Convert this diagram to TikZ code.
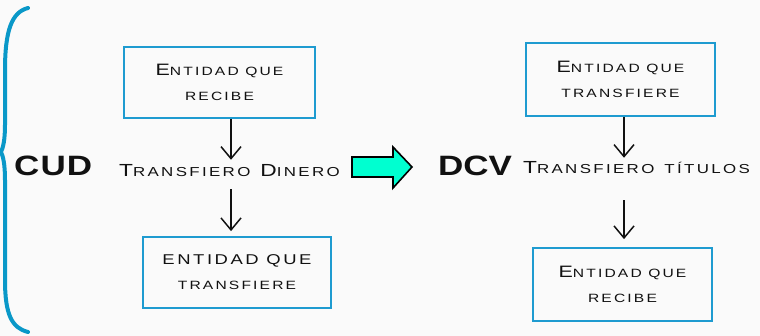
\documentclass[tikz,border=0pt]{standalone}
\usepackage{fontspec}
\setmainfont{Liberation Sans}[LetterSpace=18,FakeStretch=1.3]
\newfontfamily\headfont{Liberation Sans Bold}[LetterSpace=4,FakeStretch=1.25]
\usetikzlibrary{arrows.meta}
\definecolor{boxblue}{RGB}{30,155,208}
\definecolor{braceblue}{RGB}{10,152,200}
\definecolor{bg}{RGB}{250,250,250}
\definecolor{aqua}{RGB}{0,255,208}
\definecolor{ink}{RGB}{17,17,17}
\newcommand{\BC}[1]{{\fontsize{17.5}{25}\selectfont #1}}
\newcommand{\SC}[1]{{\fontsize{13}{25}\selectfont #1}}
\newcommand{\BB}[1]{{\fontsize{16.5}{25}\selectfont #1}}
\newcommand{\SB}[1]{{\fontsize{12}{25}\selectfont #1}}
\begin{document}
\begin{tikzpicture}[x=1pt,y=-1pt,
  box/.style={draw=boxblue,line width=1.8pt,align=center,inner sep=0pt,text=ink,
    font=\fontsize{12}{25}\selectfont},
  lbl/.style={anchor=base west,inner sep=0pt,text=ink,font=\fontsize{13}{25}\selectfont},
  big/.style={anchor=base west,inner sep=0pt,text=ink,font=\headfont\fontsize{28}{30}\selectfont},
  arr/.style={-{Straight Barb[length=12pt,width=20pt,line width=1.5pt]},line width=1.5pt,draw=ink},
  brace/.style={draw=braceblue,line width=4pt,line cap=round},
  bigarrow/.style={draw=black,line width=1.6pt,fill=aqua,line join=miter}]
\fill[bg] (0,0) rectangle (760,336);
\useasboundingbox (0,0) rectangle (760,336);
% brace
\draw[brace] (28,8) .. controls (12,12) and (5,30) .. (5,70) -- (5,125)
  .. controls (5,140) and (3,148) .. (1,152) .. controls (3,156) and (5,164) .. (5,180)
  -- (5,280) .. controls (5,315) and (12,328) .. (28,332);
% boxes
\node[box,minimum width=191pt,minimum height=71pt] (b1) at (219.5,82.5)
  {\BB{E}\SB{NTIDAD QUE}\\\SB{RECIBE}};
\node[box,minimum width=188pt,minimum height=71pt] (b2) at (237,272.5)
  {{\fontsize{14.2}{25}\selectfont ENTIDAD QUE}\\\SB{TRANSFIERE}};
\node[box,minimum width=189pt,minimum height=73pt] (b3) at (620.5,79.5)
  {\BB{E}\SB{NTIDAD QUE}\\\SB{TRANSFIERE}};
\node[box,minimum width=179pt,minimum height=73pt] (b4) at (622.5,284.5)
  {\BB{E}\SB{NTIDAD QUE}\\\SB{RECIBE}};
% labels
\node[big] (cud) at (14,176) {CUD};
\node[lbl] (t1) at (119,177) {\BC{T}\SC{RANSFIERO}\hspace{3pt} \BC{D}\SC{INERO}};
\node[big] (dcv) at (438,176) {\addfontfeatures{LetterSpace=0}DCV};
\node[lbl] (t2) at (523,174) {\BC{T}\SC{RANSFIERO\hspace{3pt} TÍTULOS}};
% big arrow
\draw[bigarrow] (352,157) -- (393,157) -- (393,147) -- (412,167) -- (393,188)
  -- (393,177) -- (352,177) -- cycle;
% connectors
\coordinate (x1) at (231,0);
\coordinate (x2) at (624,0);
\draw[arr,shorten >=5pt] (b1.south -| x1) -- (t1.north -| x1);
\draw[arr,shorten <=12pt,shorten >=5pt] (t1.south -| x1) -- (b2.north -| x1);
\draw[arr,shorten >=4pt] (b3.south -| x2) -- (t2.north -| x2);
\draw[arr,shorten <=26pt,shorten >=8pt] (t2.south -| x2) -- (b4.north -| x2);
\end{tikzpicture}
\end{document}
